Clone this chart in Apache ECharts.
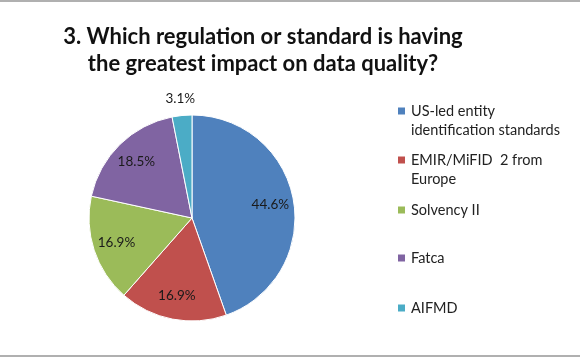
<!DOCTYPE html>
<html><head><meta charset="utf-8">
<script src="https://cdn.jsdelivr.net/npm/echarts@6/dist/echarts.min.js"></script>
<style>html,body{margin:0;padding:0;background:#fff}#c{width:580px;height:358px}</style>
</head><body><div id="c"></div>
<script>
var categories = ['US-led entity\nidentification standards', 'EMIR/MiFID  2 from\nEurope', 'Solvency II', 'Fatca', 'AIFMD'];
var values = [44.6, 16.9, 16.9, 18.5, 3.1];
var colors = ['#4F81BD', '#C0504D', '#9BBB59', '#8064A2', '#4BACC6'];
var outsideLabel = [false, false, false, false, true];
var legendCenters = [111, 160, 210, 258, 308];

var FONT = 'Lato';
var chart = echarts.init(document.getElementById('c'), null, {renderer: 'canvas'});

function pieData(mode) {
  return categories.map(function (n, i) {
    var show = mode === 'main' ? false : (mode === 'in' ? !outsideLabel[i] : outsideLabel[i]);
    return {name: n, value: values[i], label: {show: show}};
  });
}

var legends = categories.map(function (n, i) {
  var twoLine = n.indexOf('\n') >= 0;
  return {
    orient: 'vertical', left: 396, top: legendCenters[i] - (twoLine ? 28.5 : 9.5), padding: 0,
    itemWidth: 9, itemHeight: 9, icon: 'rect', selectedMode: false,
    formatter: function (name) { return name.indexOf('\n') >= 0 ? '\n' + name : name; },
    data: [{name: n, itemStyle: {color: colors[i]}}],
    textStyle: {fontFamily: FONT, fontSize: 14.5, color: '#222', lineHeight: 19}
  };
});

var labelStyle = {position: 'inside', formatter: '{c}%', fontFamily: FONT, fontSize: 13.5, color: '#1a1a1a'};

chart.setOption({
  animation: false,
  color: colors,
  title: {
    text: '3. Which regulation or standard is having\nthe greatest impact on data quality?',
    left: 258, top: 18, textAlign: 'center',
    textStyle: {fontFamily: FONT, fontWeight: 'bold', fontSize: 22, lineHeight: 27, color: '#111'}
  },
  legend: legends,
  graphic: [
    {type: 'rect', shape: {x: 0, y: 0, width: 580, height: 2}, style: {fill: '#b0b0b0'}, silent: true},
    {type: 'rect', shape: {x: 0, y: 355, width: 580, height: 2}, style: {fill: '#b0b0b0'}, silent: true}
  ],
  series: [
    {type: 'pie', center: [192, 218], radius: [0, 103], startAngle: 90, clockwise: true,
     label: {show: false}, labelLine: {show: false}, silent: true,
     itemStyle: {borderColor: '#fff', borderWidth: 1}, emphasis: {disabled: true},
     data: pieData('main')},
    {type: 'pie', center: [192, 218], radius: [50, 103], startAngle: 90, clockwise: true,
     itemStyle: {color: 'transparent'}, silent: true, emphasis: {disabled: true}, z: 3,
     label: labelStyle, labelLine: {show: false}, data: pieData('in')},
    {type: 'pie', center: [192, 218], radius: [103, 131], startAngle: 90, clockwise: true,
     itemStyle: {color: 'transparent'}, silent: true, emphasis: {disabled: true}, z: 3,
     label: labelStyle, labelLine: {show: false}, data: pieData('out')}
  ]
});
</script></body></html>
